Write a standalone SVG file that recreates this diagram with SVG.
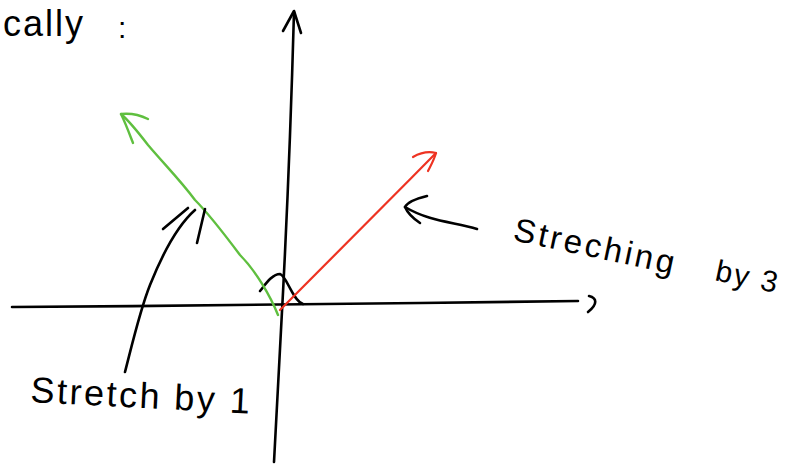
<svg xmlns="http://www.w3.org/2000/svg" width="791" height="465" viewBox="0 0 791 465">
<style>
.ink{fill:none;stroke:#000;stroke-width:2.6;stroke-linecap:round;stroke-linejoin:round}
.g{fill:none;stroke:#5fbf3f;stroke-width:2.4;stroke-linecap:round;stroke-linejoin:round}
.r{fill:none;stroke:#ee3322;stroke-width:2.2;stroke-linecap:round;stroke-linejoin:round}
.t{font-family:"Liberation Sans","DejaVu Sans",sans-serif;fill:#000}
</style>
<rect width="791" height="465" fill="#fff"/>
<g id="axes">
<path class="ink" d="M294,12 C291,120 286,240 281,330 C278,390 276,430 274,462"/>
<path class="ink" d="M283,31 L294,11 L301,33"/>
<path class="ink" d="M12,307 C150,306 300,305 420,303 C490,302 540,301 578,301"/>
<path class="ink" d="M589,296 C597,298 598,304 588,312"/>
</g>
<g id="bump">
<path class="ink" d="M260,291 C265,285 272,274 280,274 C287,276 292,300 303,304"/>
</g>
<g id="green-vector">
<path class="g" d="M278,315 C270,295 255,270 240,255 C225,235 210,215 195,200 C180,180 165,165 148,145 C138,132 128,120 121,114"/>
<path class="g" d="M133,143 C128,130 125,122 121,114 C130,113 140,115 148,119"/>
</g>
<g id="red-vector">
<path class="r" d="M280,310 C320,270 380,210 436,153"/>
<path class="r" d="M413,157 C420,153 428,151 436,153 C434,160 431,165 428,171"/>
</g>
<g id="connectors">
<path class="ink" d="M125,372 C132,345 140,310 150,285 C162,255 178,225 195,210"/>
<path class="ink" d="M163,229 L188,208"/>
<path class="ink" d="M205,209 L197,243"/>
<path class="ink" d="M477,229 C455,222 430,222 405,207"/>
<path class="ink" d="M427,196 C415,199 407,203 405,207 C408,214 414,219 420,223"/>
</g>
<g id="label-cally">
<text class="t" x="3" y="36" font-size="36" letter-spacing="2">cally</text>
<text class="t" x="118" y="38" font-size="30">:</text>
</g>
<g id="label-streching">
<text class="t" x="512" y="240" font-size="33" letter-spacing="3" transform="rotate(12 512 240)">Streching</text>
<text class="t" x="714" y="280" font-size="30" letter-spacing="2" transform="rotate(12 714 280)">by 3</text>
</g>
<g id="label-stretch">
<text class="t" x="30" y="402" font-size="36" letter-spacing="2.5" transform="rotate(3 30 402)">Stretch by 1</text>
</g>
</svg>
